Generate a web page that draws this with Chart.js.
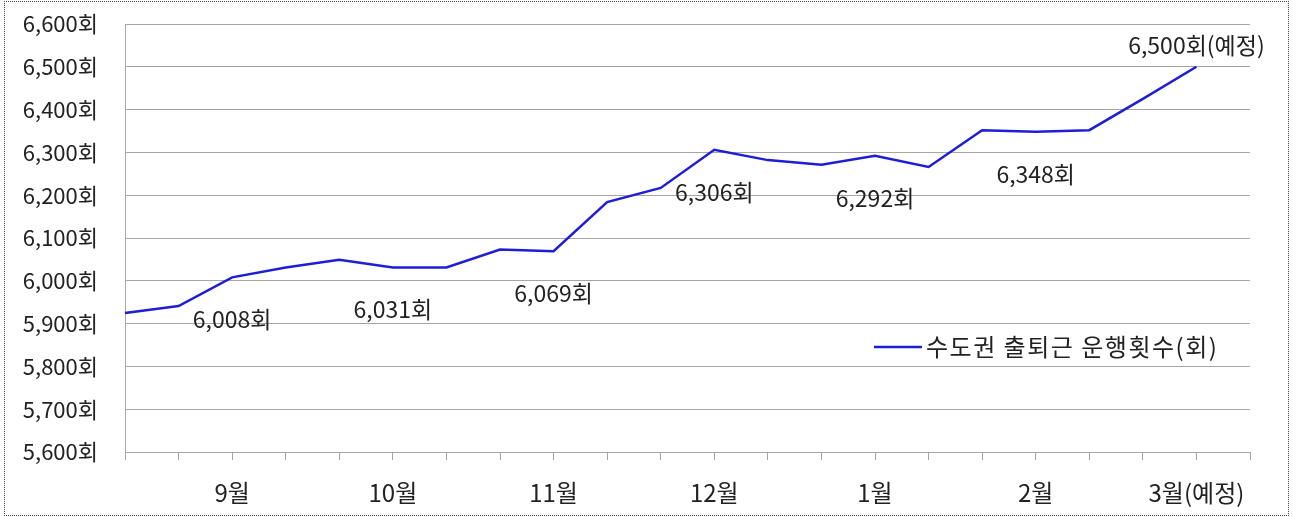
<!DOCTYPE html>
<html>
<head>
<meta charset="utf-8">
<script src="https://cdn.jsdelivr.net/npm/chart.js@4"></script>
<style>
  html, body { margin: 0; padding: 0; background: #fff; }
  #wrap { position: absolute; left: 4px; top: 1px; width: 1283px; height: 513px; border: 1px dotted #444; }
  #c { position: absolute; left: 0; top: 0; }
</style>
</head>
<body>
<canvas id="c" width="1293" height="517"></canvas>
<div id="wrap"></div>
<script>
// x categories (one per point, last entry closes the axis)
const categories = ['', '', '9월', '', '', '10월', '', '', '11월', '', '', '12월', '', '', '1월', '', '', '2월', '', '', '3월(예정)', ''];
const seriesLabel = '수도권 출퇴근 운행횟수(회)';
const values = [5925, 5941, 6008, 6031, 6049, 6031, 6031, 6073, 6069, 6184, 6217, 6306, 6282, 6271, 6292, 6266, 6352, 6348, 6352, 6425, 6500];
const pointLabels = [null, null, '6,008회', null, null, '6,031회', null, null, '6,069회', null, null, '6,306회', null, null, '6,292회', null, null, '6,348회', null, null, '6,500회(예정)'];
const yMin = 5600, yMax = 6600, yStep = 100;

const FONT = "'Noto Sans CJK KR', 'Noto Sans', sans-serif";
const lineColor = '#1e1ed6';
const gridColor = '#a6a6a6';
const textColor = '#222';

const labelPlugin = {
  id: 'pointText',
  afterDatasetsDraw(chart) {
    const ctx = chart.ctx;
    const meta = chart.getDatasetMeta(0);
    ctx.save();
    ctx.font = '23px ' + FONT;
    ctx.fillStyle = textColor;
    ctx.textAlign = 'center';
    ctx.textBaseline = 'middle';
    pointLabels.forEach((t, i) => {
      if (!t) return;
      const p = meta.data[i];
      const dy = i === values.length - 1 ? -22 : 42;
      ctx.fillText(t, p.x, p.y + dy);
    });
    // legend
    const lx = 874, ly = 347;
    ctx.strokeStyle = lineColor;
    ctx.lineWidth = 2.5;
    ctx.beginPath();
    ctx.moveTo(lx, ly);
    ctx.lineTo(lx + 48, ly);
    ctx.stroke();
    ctx.font = '24px ' + FONT;
    ctx.letterSpacing = '1.5px';
    ctx.textAlign = 'left';
    ctx.fillText(chart.data.datasets[0].label, lx + 52, ly);
    ctx.restore();
  }
};

new Chart(document.getElementById('c'), {
  type: 'line',
  data: {
    labels: categories,
    datasets: [{
      label: seriesLabel,
      data: values,
      borderColor: lineColor,
      borderWidth: 2.5,
      pointRadius: 0,
      tension: 0,
      fill: false
    }]
  },
  options: {
    responsive: false,
    animation: false,
    layout: { padding: { left: 0, top: 24, right: 43, bottom: 0 } },
    plugins: { legend: { display: false }, tooltip: { enabled: false } },
    scales: {
      x: {
        offset: false,
        afterFit(s) { s.height = 65; },
        grid: { drawOnChartArea: false, drawTicks: true, tickLength: 8, color: gridColor },
        border: { color: gridColor },
        ticks: {
          autoSkip: false, maxRotation: 0, padding: 18,
          color: textColor, font: { family: FONT, size: 24 }
        }
      },
      y: {
        min: yMin, max: yMax,
        afterFit(s) { s.width = 125; s.paddingTop = 0; s.paddingBottom = 0; },
        grid: { color: gridColor, drawTicks: false, tickLength: 0 },
        border: { color: gridColor },
        ticks: {
          stepSize: yStep, padding: 27,
          color: textColor, font: { family: FONT, size: 22 },
          callback: v => v.toLocaleString('en-US') + '회'
        }
      }
    }
  },
  plugins: [labelPlugin]
});
</script>
</body>
</html>
